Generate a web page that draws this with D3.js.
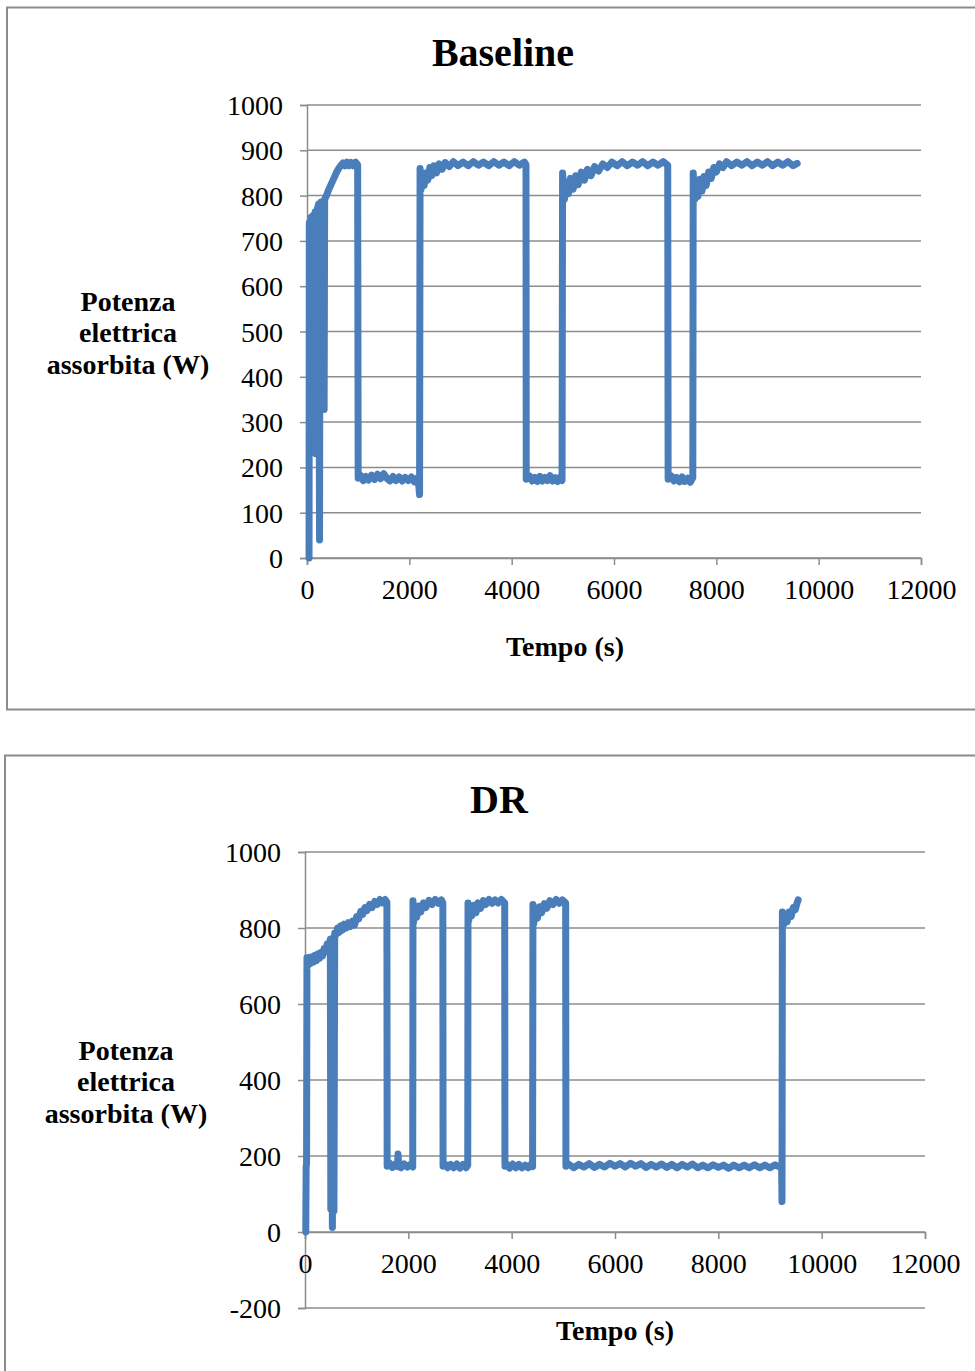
<!DOCTYPE html>
<html>
<head>
<meta charset="utf-8">
<script src="https://cdn.jsdelivr.net/npm/d3@7"></script>
<style>
  body { margin: 0; background: #fff; }
  svg { display: block; }
  text { font-family: "Liberation Serif", "Times New Roman", serif; fill: #000; }
</style>
</head>
<body>
<div id="graph"></div>
<script>
// ---- data ----
const xTicks = [0, 2000, 4000, 6000, 8000, 10000, 12000];
const baseYTicks = [0, 100, 200, 300, 400, 500, 600, 700, 800, 900, 1000];
const drYTicks = [-200, 0, 200, 400, 600, 800, 1000];

// Baseline: [tempo (s), potenza (W)]
const baseline = [
  [40, 0], [45, 740], [60, 722], [80, 752], [100, 736], [120, 756], [140, 742], [160, 764],
  [170, 230], [180, 760], [200, 770], [230, 782], [245, 40], [255, 772], [275, 786],
  [290, 330], [300, 782], [310, 340], [320, 786], [335, 328], [345, 792],
  [380, 800], [420, 812], [460, 822], [500, 832], [540, 842], [580, 852], [620, 860],
  [660, 866], [700, 872], [740, 866], [780, 874], [820, 866], [860, 873], [900, 866],
  [950, 874], [990, 868],
  [1000, 176], [1050, 182], [1100, 171], [1150, 180], [1200, 172], [1260, 183], [1320, 173],
  [1380, 185], [1440, 175], [1500, 186], [1560, 176], [1620, 170], [1680, 180], [1740, 171],
  [1800, 179], [1860, 170], [1920, 178], [1980, 171], [2040, 179], [2100, 168], [2150, 176],
  [2180, 166], [2200, 140],
  [2210, 860], [2230, 814], [2260, 842], [2290, 822], [2320, 850], [2360, 834], [2400, 862],
  [2440, 844], [2480, 866], [2530, 850], [2580, 870], [2640, 858], [2700, 873], [2780, 864],
  [2860, 875], [2950, 866], [3050, 874], [3150, 866], [3250, 875], [3350, 867], [3450, 874],
  [3550, 866], [3650, 875], [3750, 867], [3850, 874], [3950, 866], [4050, 875], [4150, 867],
  [4250, 874], [4280, 868],
  [4285, 174], [4350, 181], [4400, 170], [4450, 178], [4500, 169], [4550, 180], [4600, 170],
  [4650, 178], [4700, 171], [4750, 182], [4800, 170], [4850, 177], [4900, 169], [4950, 179],
  [4985, 171],
  [4995, 850], [5030, 792], [5070, 830], [5110, 804], [5150, 838], [5200, 814], [5250, 844],
  [5300, 824], [5360, 852], [5420, 834], [5480, 858], [5550, 844], [5620, 864], [5700, 854],
  [5780, 870], [5870, 862], [5960, 874], [6060, 866], [6160, 875], [6260, 866], [6360, 874],
  [6460, 867], [6560, 875], [6660, 866], [6760, 874], [6860, 867], [6960, 875], [7050, 867],
  [7058, 174], [7120, 181], [7170, 170], [7220, 178], [7280, 168], [7330, 179], [7380, 169],
  [7440, 176], [7490, 167], [7540, 177],
  [7548, 850], [7580, 792], [7610, 830], [7640, 798], [7680, 836], [7720, 810], [7760, 842],
  [7800, 822], [7850, 852], [7900, 838], [7950, 862], [8000, 852], [8060, 870], [8130, 862],
  [8200, 875], [8300, 866], [8400, 874], [8500, 867], [8600, 875], [8700, 866], [8800, 874],
  [8900, 867], [9000, 875], [9100, 866], [9200, 874], [9300, 867], [9400, 875], [9500, 866],
  [9580, 871]
];

// DR: [tempo (s), potenza (W)]
const dr = [
  [15, 0], [22, 172], [30, 180], [38, 722], [60, 702], [80, 722], [100, 706], [130, 724],
  [160, 710], [190, 728], [220, 714], [250, 732], [280, 720], [310, 736], [340, 726],
  [370, 746], [400, 738], [430, 758], [460, 750], [490, 770], [500, 60], [510, 768],
  [530, 12], [545, 774], [560, 55], [575, 786], [600, 782], [630, 800], [660, 788],
  [690, 806], [720, 794], [760, 810], [800, 800], [840, 814], [880, 804], [920, 818],
  [960, 808], [1000, 830], [1040, 824], [1080, 844], [1120, 836], [1160, 854], [1200, 846],
  [1250, 862], [1300, 854], [1350, 870], [1400, 862], [1450, 875], [1500, 866], [1550, 875],
  [1585, 868],
  [1590, 173], [1640, 181], [1690, 170], [1740, 178], [1790, 172], [1800, 205], [1815, 174],
  [1860, 169], [1920, 179], [1980, 171], [2040, 178], [2085, 171],
  [2090, 872], [2100, 814], [2130, 850], [2160, 828], [2200, 858], [2240, 842], [2290, 866],
  [2340, 854], [2400, 873], [2460, 862], [2520, 875], [2580, 865], [2640, 874], [2668, 866],
  [2672, 173], [2700, 180], [2760, 169], [2820, 178], [2880, 169], [2940, 179], [3000, 168],
  [3060, 178], [3120, 169], [3150, 176],
  [3155, 866], [3170, 820], [3200, 852], [3230, 832], [3270, 860], [3310, 840], [3350, 866],
  [3400, 852], [3450, 872], [3500, 862], [3560, 875], [3620, 865], [3680, 874], [3740, 866],
  [3800, 875], [3865, 866],
  [3870, 173], [3900, 179], [3960, 168], [4020, 179], [4080, 169], [4140, 178], [4200, 169],
  [4260, 176], [4320, 169], [4380, 179], [4405, 172],
  [4412, 862], [4425, 810], [4460, 846], [4500, 826], [4540, 856], [4580, 840], [4630, 864],
  [4680, 852], [4740, 872], [4800, 862], [4860, 875], [4920, 865], [4980, 874], [5045, 866],
  [5050, 173], [5100, 179], [5200, 169], [5300, 178], [5400, 171], [5500, 180], [5600, 170],
  [5700, 178], [5800, 171], [5900, 181], [6000, 173], [6100, 180], [6200, 171], [6300, 181],
  [6400, 173], [6500, 180], [6600, 170], [6700, 178], [6800, 171], [6900, 179], [7000, 170],
  [7100, 178], [7200, 169], [7300, 178], [7400, 171], [7500, 179], [7600, 169], [7700, 176],
  [7800, 169], [7900, 177], [8000, 170], [8100, 176], [8200, 168], [8300, 176], [8400, 169],
  [8500, 176], [8600, 169], [8700, 177], [8800, 169], [8900, 176], [9000, 169], [9100, 177],
  [9200, 170], [9225, 176], [9232, 80],
  [9240, 842], [9270, 810], [9300, 836], [9330, 816], [9370, 842], [9410, 830], [9450, 854],
  [9490, 848], [9520, 864], [9545, 874]
];

const lineColor = "#4a7ebb";
const gridColor = "#8c8c8c";

const svg = d3.select("#graph")
  .append("svg")
  .attr("width", 975)
  .attr("height", 1371);

// chart frames
svg.append("rect")
  .attr("x", 7).attr("y", 7.5).attr("width", 980).attr("height", 702)
  .attr("fill", "#fff").attr("stroke", gridColor).attr("stroke-width", 2);
svg.append("rect")
  .attr("x", 5).attr("y", 755.5).attr("width", 980).attr("height", 640)
  .attr("fill", "#fff").attr("stroke", gridColor).attr("stroke-width", 2);

drawChart({
  title: "Baseline", titleX: 503, titleY: 52,
  data: baseline,
  xRange: [307, 921], yDomain: [0, 1000], yRange: [558, 105],
  yTicks: baseYTicks,
  yLabelX: 128, yLabelY: [301, 332, 364],
  xLabelX: 565, xLabelY: 646
});

drawChart({
  title: "DR", titleX: 499, titleY: 799,
  data: dr,
  xRange: [305, 925], yDomain: [-200, 1000], yRange: [1308, 852],
  yTicks: drYTicks,
  yLabelX: 126, yLabelY: [1050, 1081, 1113],
  xLabelX: 615, xLabelY: 1330
});

function drawChart(c) {
  let x = d3.scaleLinear().domain([0, 12000]).range(c.xRange),
      y = d3.scaleLinear().domain(c.yDomain).range(c.yRange);

  let g = svg.append("g");

  // y axis with outside ticks
  let yAxis = d3.axisLeft(y)
    .tickValues(c.yTicks)
    .tickSize(7)
    .tickPadding(17)
    .tickFormat(d => String(d));

  let ya = g.append("g")
    .attr("transform", "translate(" + c.xRange[0] + ",0)")
    .call(yAxis);
  ya.select(".domain").attr("stroke", gridColor).attr("stroke-width", 1.5);
  ya.selectAll(".tick line").attr("stroke", gridColor).attr("stroke-width", 1.5);
  ya.selectAll(".tick text").attr("font-size", 28).attr("font-family", "Liberation Serif").attr("dy", "0.34em");

  // horizontal gridlines
  g.append("g").selectAll("line")
    .data(c.yTicks)
    .enter().append("line")
    .attr("x1", c.xRange[0]).attr("x2", c.xRange[1])
    .attr("y1", d => y(d)).attr("y2", d => y(d))
    .attr("stroke", gridColor).attr("stroke-width", 1.5);

  // x axis sits on zero
  let xAxis = d3.axisBottom(x)
    .tickValues(xTicks)
    .tickSize(7)
    .tickPadding(14)
    .tickFormat(d => String(d));

  let xa = g.append("g")
    .attr("transform", "translate(0," + y(0) + ")")
    .call(xAxis);
  xa.select(".domain").attr("stroke", gridColor).attr("stroke-width", 1.5);
  xa.selectAll(".tick line").attr("stroke", gridColor).attr("stroke-width", 1.5);
  xa.selectAll(".tick text").attr("font-size", 28).attr("font-family", "Liberation Serif");

  // series
  let line = d3.line()
    .x(d => x(d[0]))
    .y(d => y(d[1]));

  g.append("path")
    .datum(c.data)
    .attr("d", line)
    .attr("fill", "none")
    .attr("stroke", lineColor)
    .attr("stroke-width", 7)
    .attr("stroke-linejoin", "round")
    .attr("stroke-linecap", "round");

  // titles
  g.append("text")
    .attr("x", c.titleX).attr("y", c.titleY)
    .attr("text-anchor", "middle").attr("dy", "0.35em")
    .attr("font-size", 40).attr("font-weight", "bold")
    .text(c.title);

  g.append("text")
    .attr("text-anchor", "middle")
    .attr("font-size", 28).attr("font-weight", "bold")
    .selectAll("tspan")
    .data(["Potenza", "elettrica", "assorbita (W)"])
    .enter().append("tspan")
    .attr("x", c.yLabelX)
    .attr("y", (d, i) => c.yLabelY[i])
    .attr("dy", "0.35em")
    .text(d => d);

  g.append("text")
    .attr("x", c.xLabelX).attr("y", c.xLabelY)
    .attr("text-anchor", "middle").attr("dy", "0.35em")
    .attr("font-size", 28).attr("font-weight", "bold")
    .text("Tempo (s)");
}
</script>
</body>
</html>
